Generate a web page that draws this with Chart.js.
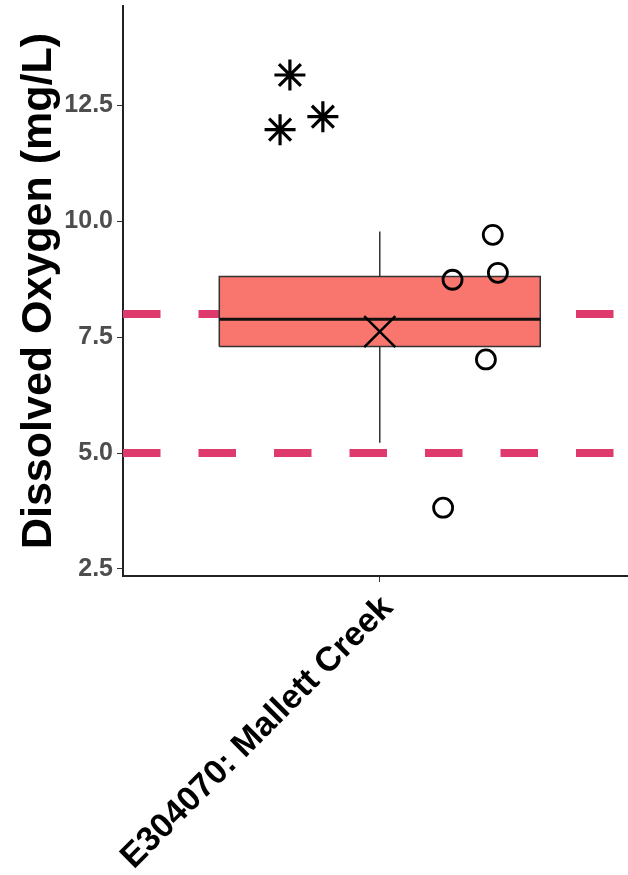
<!DOCTYPE html>
<html>
<head>
<meta charset="utf-8">
<script src="https://cdn.jsdelivr.net/npm/chart.js@4"></script>
<style>
  body { margin: 0; background: #fff; }
  #wrap { width: 628px; height: 875px; }
</style>
</head>
<body>
<div id="wrap"><canvas id="grafico"></canvas></div>
<script>
// dados
const site = 'E304070: Mallett Creek';
const yTicks = [2.5, 5.0, 7.5, 10.0, 12.5];
const quartis = [7.30, 8.81];      // Q1, Q3
const mediana = 7.89;
const media = 7.62;
const bigodes = [5.22, 9.78];      // min, max
const limites = [8.0, 5.0];        // linhas tracejadas
// pontos (posição x com jitter, em unidades do eixo)
const circX = [1.264, 1.276, 1.170, 1.248, 1.148];
const circY = [9.71, 8.89, 8.74, 7.02, 3.82];
const starX = [0.790, 0.767, 0.867];
const starY = [13.16, 11.98, 12.26];

const xMin = 0.4, xMax = 1.58, meiaLarg = 0.375;

const pts = (xs, ys) => xs.map((x, i) => ({ x: x, y: ys[i] }));
const seg = (x0, y0, x1, y1) => [{ x: x0, y: y0 }, { x: x1, y: y1 }];

const datasets = [];

// mean X
datasets.push({ data: [{ x: 1, y: media }], pointStyle: 'crossRot', pointRadius: 22,
  borderColor: '#000', pointBorderWidth: 2.5, showLine: false, order: 0 });
// circles
datasets.push({ data: pts(circX, circY), pointStyle: 'circle', pointRadius: 9.5,
  borderColor: '#000', backgroundColor: 'rgba(0,0,0,0)', pointBorderWidth: 2.8, showLine: false, order: 1 });
// stars
datasets.push({ data: pts(starX, starY), pointStyle: 'star', pointRadius: 15.5,
  borderColor: '#000', pointBorderWidth: 3.2, showLine: false, order: 1 });
// mediana
datasets.push({ data: seg(1 - meiaLarg, mediana, 1 + meiaLarg, mediana), showLine: true,
  borderColor: '#111', borderWidth: 3, pointRadius: 0, order: 2 });
// caixa
const x0 = 1 - meiaLarg, x1 = 1 + meiaLarg;
datasets.push({
  data: [{ x: x0, y: quartis[0] }, { x: x0, y: quartis[1] }, { x: x1, y: quartis[1] },
         { x: x1, y: quartis[0] }, { x: x0, y: quartis[0] }],
  showLine: true, fill: 'shape', backgroundColor: '#F8766D', borderColor: '#333',
  borderWidth: 1.5, pointRadius: 0, order: 3
});
// bigodes
datasets.push({ data: seg(1, quartis[1], 1, bigodes[1]), showLine: true,
  borderColor: '#333', borderWidth: 1.5, pointRadius: 0, order: 4 });
datasets.push({ data: seg(1, quartis[0], 1, bigodes[0]), showLine: true,
  borderColor: '#333', borderWidth: 1.5, pointRadius: 0, order: 4 });
// limites tracejados
limites.forEach(v => {
  datasets.push({ data: seg(xMin, v, xMax, v), showLine: true, borderColor: '#DE3A6E',
    borderWidth: 8, borderDash: [37.5, 38], borderCapStyle: 'butt', pointRadius: 0, order: 5 });
});

new Chart(document.getElementById('grafico'), {
  type: 'scatter',
  data: { datasets: datasets },
  options: {
    responsive: true,
    maintainAspectRatio: false,
    animation: false,
    layout: { autoPadding: false, padding: { top: 6, right: 0, left: 0, bottom: 0 } },
    plugins: { legend: { display: false }, tooltip: { enabled: false } },
    scales: {
      x: {
        type: 'linear', min: xMin, max: xMax,
        afterBuildTicks: s => { s.ticks = [{ value: 1 }]; },
        afterFit: s => { s.height = 299; s.paddingLeft = 0; s.paddingRight = 0; },
        grid: { drawOnChartArea: false, drawTicks: true, tickLength: 6, color: '#333' },
        border: { display: true, color: '#222', width: 2 },
        ticks: {
          autoSkip: false, minRotation: 45, maxRotation: 45, padding: 6, labelOffset: 8,
          color: '#000', font: { family: 'Liberation Sans', size: 34, weight: 'bold' },
          callback: () => site
        }
      },
      y: {
        min: 2.345, max: 14.65,
        afterBuildTicks: s => { s.ticks = yTicks.map(v => ({ value: v })); },
        afterFit: s => { s.width = 123; s.paddingTop = 0; s.paddingBottom = 0; },
        grid: { drawOnChartArea: false, drawTicks: true, tickLength: 6, color: '#333' },
        border: { display: true, color: '#222', width: 2 },
        ticks: {
          padding: 4, color: '#4D4D4D',
          font: { family: 'Liberation Sans', size: 25, weight: 'bold' },
          callback: v => Number(v).toFixed(1)
        },
        title: {
          display: true, text: 'Dissolved Oxygen (mg/L)', color: '#000',
          font: { family: 'Liberation Sans', size: 43, weight: 'bold' },
          padding: { top: 13, bottom: 0 }
        }
      }
    }
  }
});
</script>
</body>
</html>
